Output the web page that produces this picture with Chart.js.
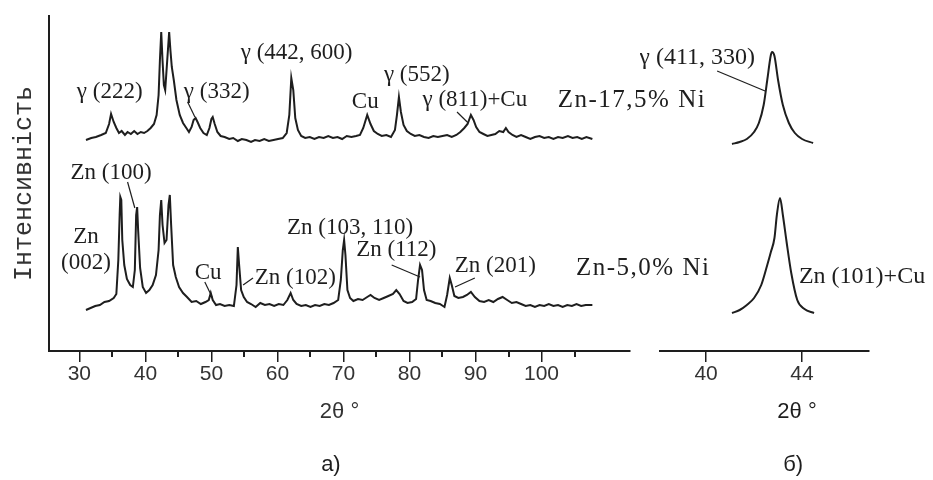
<!DOCTYPE html>
<html lang="uk">
<head>
<meta charset="utf-8">
<title>Zn–Ni: 2θ</title>
<script src="https://cdn.jsdelivr.net/npm/chart.js@4.4.1/dist/chart.umd.min.js"></script>
<style>
  html, body { margin: 0; background: #fff; }
  #wrap { position: relative; width: 933px; height: 480px; }
  canvas { position: absolute; top: 0; }
  #survey { left: 0; }
  #detail { left: 640px; }
</style>
</head>
<body>
<div id="wrap">
  <canvas id="survey" width="720" height="480"></canvas>
  <canvas id="detail" width="293" height="480"></canvas>
</div>
<script>
// diffraction patterns, 2θ in degrees, intensity in arbitrary units
// (the 17,5% Ni pattern is drawn with its own offset above the 5,0% one)
var survey2Theta175 = [31.0, 31.8, 32.5, 33.3, 34.0, 34.5, 34.8, 35.2, 35.6, 36.0, 36.4, 36.9, 37.3, 37.8, 38.3, 38.8, 39.3, 39.8, 40.3, 40.8,
  41.3, 41.7, 42.0, 42.2, 42.4, 42.6, 42.8, 43.0, 43.3, 43.6, 43.8, 44.0, 44.3, 44.7, 45.2, 45.7, 46.2, 46.6, 47.0, 47.3,
  47.6, 47.9, 48.3, 48.8, 49.3, 49.7, 50.0, 50.2, 50.5, 50.9, 51.4, 52.0, 52.7, 53.3, 54.0, 54.6, 55.3, 56.0, 56.6, 57.3,
  58.0, 58.7, 59.4, 60.1, 60.8, 61.4, 61.8, 62.1, 62.4, 62.7, 63.1, 63.6, 64.2, 64.9, 65.6, 66.3, 67.0, 67.7, 68.4, 69.1,
  69.8, 70.5, 71.2, 71.9, 72.5, 73.0, 73.6, 74.1, 74.6, 75.2, 75.8, 76.5, 77.2, 77.8, 78.1, 78.4, 78.7, 79.1, 79.6, 80.2,
  80.8, 81.5, 82.2, 82.9, 83.6, 84.3, 85.0, 85.7, 86.4, 87.1, 87.7, 88.3, 88.8, 89.3, 89.7, 90.1, 90.6, 91.2, 91.8, 92.4,
  93.0, 93.6, 94.2, 94.6, 95.0, 95.6, 96.2, 96.9, 97.6, 98.3, 99.0, 99.7, 100.4, 101.1, 101.8, 102.5, 103.2, 104.0, 104.7, 105.4,
  106.1, 106.8, 107.7];
var surveyCounts175 = [211, 213, 214, 216, 218, 227, 237, 229, 223, 218, 220, 216, 219, 217, 220, 217, 219, 218, 220, 223,
  227, 236, 256, 291, 319, 290, 266, 261, 290, 319, 300, 284, 271, 251, 236, 228, 223, 219, 224, 231,
  233, 229, 223, 218, 216, 223, 232, 234, 227, 219, 215, 214, 212, 213, 210, 212, 211, 209, 211, 210,
  212, 210, 211, 212, 213, 218, 236, 273, 261, 233, 221, 215, 213, 214, 212, 214, 213, 215, 213, 214,
  212, 215, 214, 215, 216, 223, 236, 227, 220, 217, 215, 216, 214, 221, 236, 254, 239, 226, 220, 217,
  215, 216, 214, 213, 215, 214, 215, 216, 214, 216, 219, 223, 227, 236, 231, 224, 219, 217, 215, 216,
  217, 220, 219, 223, 219, 216, 214, 216, 214, 212, 214, 215, 213, 214, 212, 214, 213, 215, 213, 214,
  212, 214, 212];

var survey2Theta50 = [31.0, 31.7, 32.4, 33.1, 33.8, 34.5, 35.2, 35.6, 35.9, 36.1, 36.2, 36.35, 36.5, 36.8, 37.2, 37.7, 38.1, 38.4, 38.6, 38.75,
  38.9, 39.2, 39.6, 40.1, 40.6, 41.1, 41.6, 42.0, 42.2, 42.4, 42.6, 42.9, 43.2, 43.5, 43.7, 43.9, 44.2, 44.6, 45.1, 45.7,
  46.3, 47.0, 47.7, 48.4, 49.1, 49.6, 49.9, 50.2, 50.7, 51.3, 52.0, 52.7, 53.4, 53.8, 54.0, 54.2, 54.5, 54.9, 55.4, 56.0,
  56.7, 57.4, 58.1, 58.8, 59.5, 60.2, 60.9, 61.5, 62.0, 62.4, 62.9, 63.6, 64.3, 65.0, 65.7, 66.4, 67.1, 67.8, 68.5, 69.2,
  69.6, 69.9, 70.1, 70.3, 70.6, 71.0, 71.5, 72.2, 72.9, 73.6, 74.1, 74.7, 75.4, 76.1, 76.8, 77.5, 78.0, 78.5, 79.1, 79.7,
  80.4, 81.0, 81.3, 81.6, 81.9, 82.2, 82.6, 83.2, 83.9, 84.6, 85.3, 85.7, 86.1, 86.4, 86.8, 87.4, 88.1, 88.7, 89.3, 89.9,
  90.6, 91.3, 92.0, 92.7, 93.4, 94.1, 94.8, 95.5, 96.2, 96.9, 97.6, 98.3, 99.0, 99.7, 100.4, 101.1, 101.8, 102.5, 103.2, 103.9,
  104.6, 105.3, 106.0, 106.7, 107.7];
var surveyCounts50 = [41, 43, 45, 46, 49, 50, 53, 57, 91, 136, 154, 151, 111, 86, 72, 66, 64, 81, 136, 144,
  121, 83, 64, 58, 61, 66, 76, 101, 136, 151, 126, 108, 111, 146, 156, 126, 86, 74, 64, 58,
  54, 49, 50, 47, 49, 51, 58, 51, 46, 47, 45, 46, 45, 66, 104, 86, 61, 54, 49, 47,
  44, 48, 46, 47, 45, 47, 46, 51, 58, 51, 47, 45, 46, 44, 46, 45, 47, 46, 48, 51,
  71, 101, 111, 96, 61, 53, 50, 52, 51, 54, 56, 53, 51, 53, 55, 57, 61, 57, 50, 48,
  49, 52, 71, 86, 81, 61, 51, 50, 48, 47, 44, 56, 73, 66, 55, 53, 54, 56, 59, 54,
  50, 49, 51, 49, 52, 54, 51, 48, 49, 47, 45, 46, 44, 46, 45, 47, 45, 46, 44, 46,
  45, 47, 45, 46, 46];

// single-line scans around 43°
var detail2Theta175 = [41.08, 41.4, 41.7, 42.0, 42.2, 42.4, 42.55, 42.7, 42.75, 42.85, 43.0, 43.2, 43.45, 43.7, 44.0, 44.46];
var detailCounts175 = [207, 209, 212, 219, 228, 246, 271, 296, 299, 295, 271, 246, 228, 218, 212, 208];
var detail2Theta50 = [41.08, 41.4, 41.7, 42.0, 42.3, 42.55, 42.7, 42.85, 42.95, 43.08, 43.2, 43.35, 43.55, 43.8, 44.1, 44.5];
var detailCounts50 = [38, 41, 46, 53, 66, 86, 99, 113, 136, 153, 136, 110, 78, 51, 42, 38];

var surveyTicks = [30, 40, 50, 60, 70, 80, 90, 100];
var surveyMinorTicks = [35, 45, 55, 65, 75, 85, 95, 105];
var detailTicks = [40, 44];

var INK = '#1e1e1e';
var SERIF = "'Liberation Serif', 'Times New Roman', serif";
var SANS = "'Liberation Sans', Arial, sans-serif";
var MONO = "'Liberation Mono', 'Courier New', monospace";
var PEAK_FONT = '23px ' + SERIF;
var SAMPLE_FONT = '25px ' + SERIF;
var CAPTION_FONT = '22px ' + SANS;

// reflex labels, placed in data coordinates [2θ, intensity]
var surveyLabels = [
  { text: 'γ (222)', x: 34.6, y: 259 },
  { text: 'γ (332)', x: 50.8, y: 259 },
  { text: 'γ (442, 600)', x: 62.9, y: 298 },
  { text: 'Cu', x: 73.3, y: 249 },
  { text: 'γ (552)', x: 81.1, y: 276 },
  { text: 'γ (811)+Cu', x: 89.9, y: 251 },
  { text: 'Zn-17,5% Ni', x: 113.7, y: 251, font: SAMPLE_FONT, spacing: '1.5px' },
  { text: 'Zn (100)', x: 34.8, y: 178 },
  { text: 'Zn', x: 31.0, y: 114 },
  { text: '(002)', x: 31.0, y: 88 },
  { text: 'Cu', x: 49.5, y: 78 },
  { text: 'Zn (102)', x: 62.7, y: 73 },
  { text: 'Zn (103, 110)', x: 71.0, y: 123 },
  { text: 'Zn (112)', x: 78.0, y: 101 },
  { text: 'Zn (201)', x: 93.0, y: 85 },
  { text: 'Zn-5,0% Ni', x: 115.4, y: 83, font: SAMPLE_FONT, spacing: '1.5px' },
  { text: 'а)', x: 68.1, y: -114, font: CAPTION_FONT }
];
var surveyLeaders = [
  [46.4, 249, 47.5, 234],
  [87.2, 239, 88.9, 228],
  [37.3, 169, 38.4, 143],
  [49.0, 69, 50.1, 54],
  [56.3, 73, 54.8, 66],
  [77.3, 86, 81.6, 74],
  [89.9, 73, 86.9, 64]
];
var detailLabels = [
  { text: 'γ (411, 330)', x: 39.63, y: 293, font: '24px ' + SERIF },
  { text: 'Zn (101)+Cu', x: 46.5, y: 74, font: '24px ' + SERIF },
  { text: '2θ °', x: 43.79, y: -61, font: CAPTION_FONT },
  { text: 'б)', x: 43.63, y: -114, font: CAPTION_FONT }
];
var detailLeaders = [
  [40.46, 280, 42.46, 260]
];

function toPoints(xs, ys) {
  return xs.map(function(x, i) { return { x: x, y: ys[i] }; });
}

// labels, leader lines and short minor ticks on the 2θ axis
function annotate(id, labels, leaders, minorTicks) {
  return {
    id: id,
    afterDraw: function(chart) {
      var ctx = chart.ctx, sx = chart.scales.x, sy = chart.scales.y;
      var axisY = Math.round(chart.chartArea.bottom);
      ctx.save();
      ctx.strokeStyle = INK;
      ctx.fillStyle = INK;
      minorTicks.forEach(function(v) {
        var px = Math.round(sx.getPixelForValue(v));
        ctx.fillRect(px - 1, axisY, 2, 6);
      });
      ctx.lineWidth = 1.2;
      leaders.forEach(function(s) {
        ctx.beginPath();
        ctx.moveTo(sx.getPixelForValue(s[0]), sy.getPixelForValue(s[1]));
        ctx.lineTo(sx.getPixelForValue(s[2]), sy.getPixelForValue(s[3]));
        ctx.stroke();
      });
      ctx.textAlign = 'center';
      ctx.textBaseline = 'middle';
      labels.forEach(function(l) {
        ctx.font = l.font || PEAK_FONT;
        ctx.letterSpacing = l.spacing || '0px';
        ctx.fillText(l.text, sx.getPixelForValue(l.x), sy.getPixelForValue(l.y));
      });
      ctx.restore();
    }
  };
}

function line(points, smooth) {
  return {
    data: points,
    borderColor: INK,
    borderWidth: 2,
    pointRadius: 0,
    fill: false,
    tension: smooth ? 0.4 : 0,
    cubicInterpolationMode: smooth ? 'monotone' : 'default'
  };
}

function xAxis(min, max, ticks) {
  return {
    type: 'linear',
    min: min,
    max: max,
    afterFit: function(s) { s.height = 129; },
    afterBuildTicks: function(s) { s.ticks = ticks.map(function(v) { return { value: v }; }); },
    grid: {
      drawOnChartArea: false,
      drawTicks: true,
      tickLength: 11,
      color: INK,
      lineWidth: 1.5
    },
    border: { display: true, color: INK, width: 2 },
    ticks: {
      padding: 0,
      color: '#333',
      autoSkip: false,
      maxRotation: 0,
      font: { family: SANS, size: 21 }
    }
  };
}

Chart.defaults.font.family = SANS;

var surveyX = xAxis(25.4, 113.4, surveyTicks);
surveyX.title = { display: true, text: '2θ °', color: '#333', font: { family: SANS, size: 22 }, padding: { top: 0, bottom: 55 } };

new Chart(document.getElementById('survey'), {
  type: 'line',
  data: {
    datasets: [
      line(toPoints(survey2Theta175, surveyCounts175), false),
      line(toPoints(survey2Theta50, surveyCounts50), false)
    ]
  },
  options: {
    responsive: false,
    animation: false,
    events: [],
    layout: { padding: { top: 16, right: 90, bottom: 0, left: 0 } },
    plugins: { legend: { display: false }, tooltip: { enabled: false } },
    scales: {
      x: surveyX,
      y: {
        min: 0,
        max: 335,
        afterFit: function(s) { s.width = 49; },
        grid: { display: false },
        border: { display: true, color: INK, width: 2 },
        ticks: { display: false },
        title: { display: true, text: 'Інтенсивність', color: '#333', font: { family: MONO, size: 25 }, padding: { top: 9, bottom: 0 } }
      }
    }
  },
  plugins: [annotate('surveyLabels', surveyLabels, surveyLeaders, surveyMinorTicks)]
});

new Chart(document.getElementById('detail'), {
  type: 'line',
  data: {
    datasets: [
      line(toPoints(detail2Theta175, detailCounts175), true),
      line(toPoints(detail2Theta50, detailCounts50), true)
    ]
  },
  options: {
    responsive: false,
    animation: false,
    events: [],
    layout: { padding: { top: 16, right: 64, bottom: 0, left: 20 } },
    plugins: { legend: { display: false }, tooltip: { enabled: false } },
    scales: {
      x: xAxis(38.08, 46.79, detailTicks),
      y: { display: false, min: 0, max: 335 }
    }
  },
  plugins: [annotate('detailLabels', detailLabels, detailLeaders, [])]
});
</script>
</body>
</html>
